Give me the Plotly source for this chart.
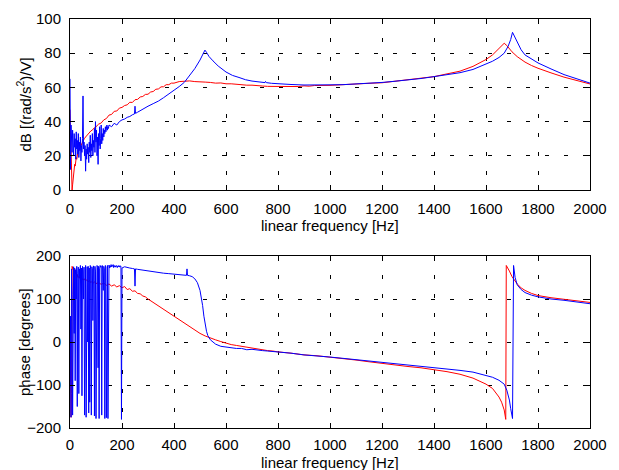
import plotly.graph_objects as go

# ---------------- data ----------------
# magnitude, blue trace
mag_blue_f = [0, 2, 4, 6, 8, 10, 12, 14, 16, 18, 20, 22, 24, 26, 28, 30, 32, 34, 36, 38,
              40, 42, 44, 46, 48, 50, 52, 54, 56, 58, 60, 62, 64, 66, 68, 70, 72, 74, 76, 78,
              80, 82, 84, 86, 88, 90, 92, 94, 96, 98, 100, 102, 104, 106, 108, 110, 112, 114, 116, 118,
              120, 122, 124, 126, 128, 130, 132, 134, 136, 138, 140, 142, 144, 146, 148, 150,
              160, 170, 180, 190, 200, 210, 220, 230, 240, 248, 250, 252, 260, 270, 280, 290, 300,
              320, 340, 360, 380, 400, 420, 440, 460, 480, 500, 510, 519, 525, 535, 550, 570, 600,
              625, 650, 675, 700, 725, 750, 752, 755, 775, 800, 850, 900, 950, 1000, 1050, 1100,
              1150, 1200, 1250, 1300, 1350, 1400, 1450, 1500, 1550, 1600, 1625, 1650, 1670, 1685,
              1695, 1702, 1710, 1720, 1735, 1750, 1775, 1800, 1850, 1900, 1950, 2000]
mag_blue = [65, 12, 38, 30, 22, 35, 27, 20, 33, 25, 30, 18, 34, 24, 29, 21, 33, 19, 28, 23,
            31, 17, 26, 22, 30, 55, 24, 28, 20, 26, 11, 24, 18, 27, 21, 25, 16, 28, 22, 32,
            19, 27, 23, 33, 20, 29, 25, 36, 22, 40, 28, 35, 20, 31, 15, 33, 26, 37, 24, 30,
            38, 27, 33, 29, 36, 31, 35, 33, 37, 34, 36, 38, 35, 37, 36, 38,
            37, 39, 38, 40, 41, 41.5, 42.5, 43, 44, 44.5, 49, 44.8, 45.5, 46.5, 47, 48, 49,
            50.5, 52, 54, 56, 58, 60.5, 63, 67, 71, 76, 79.5, 81.8, 80.5, 78, 75.5, 72.5, 69,
            67, 65.8, 64.5, 63.7, 63.2, 62.8, 63.5, 62.8, 62.4, 62.1, 61.7, 61.4, 61.3, 61.5, 61.6, 62,
            62.3, 62.9, 63.6, 64.3, 65.2, 66.3, 67.3, 68.6, 70.5, 73.8, 75.3, 77.5, 80, 84,
            88, 92.2, 89.5, 86, 82, 79, 76.5, 74.3, 70.8, 67.5, 65, 62.5]

# magnitude, red trace
mag_red_f = [0, 2, 4, 6, 8, 10, 12, 14, 16, 18, 20, 22, 24, 26, 28, 30, 35, 40, 45, 50,
             55, 60, 65, 70, 75, 80, 85, 90, 95, 100, 110, 120, 130, 140, 150, 160, 170, 180, 190, 200,
             210, 220, 230, 240, 250, 260, 270, 280, 290, 300, 310, 320, 330, 340, 350, 360, 370, 380, 390, 400,
             420, 440, 460, 480, 500, 520, 540, 560, 580, 600, 620, 640, 660, 680, 700, 720, 740, 760, 780, 800,
             820, 840, 860, 880, 900, 920, 940, 960, 980, 1000, 1050, 1100, 1150, 1200, 1250, 1300, 1350, 1400,
             1450, 1500, 1550, 1600, 1625, 1650, 1660, 1670, 1680, 1690, 1700, 1720, 1750, 1775, 1800, 1850,
             1900, 1950, 2000]
mag_red = [47, 30, 12, 2, 0, 3, 7, 10, 12, 15, 14, 17, 19, 18, 21, 22, 24, 25, 27, 29,
           30, 31, 32, 33, 33.5, 34.5, 35, 36, 36.5, 37, 38.5, 39.2, 41, 41.8, 43.8, 44.2, 46, 46.2, 47.9, 48.3,
           49.4, 49.8, 51.3, 51.2, 52.8, 53, 54.4, 54.7, 55.9, 56, 57.3, 57.6, 58.9, 59.1, 60.3, 60.4, 61.6, 61.6, 62.5, 62.5,
           63.4, 63.6, 63.8, 63.4, 63.4, 63.1, 62.9, 62.5, 62.6, 62.1, 62.1, 61.7, 61.7, 61.3, 61.3, 60.9, 60.8, 60.6, 60.6, 60.3,
           60.7, 60.3, 60.6, 60.5, 60.9, 60.7, 61.1, 61, 61.3, 61.2, 61.6, 61.8, 62.4, 62.7, 63.6, 64.2, 65.4, 66.3,
           67.9, 69.5, 72.3, 76.3, 79, 83, 84.7, 85.8, 84.5, 82.5, 80.8, 78, 74.8, 72.8, 71.2, 68.5,
           66, 64, 62]

# phase, blue trace
ph_blue_f = [0, 2, 4, 6, 8, 10, 12, 14, 16, 18, 20, 22, 24, 26, 28, 30, 32, 34, 36, 38,
             40, 42, 44, 46, 48, 50, 52, 54, 56, 58, 60, 62, 64, 66, 68, 70, 72, 74, 76, 78,
             80, 82, 84, 86, 88, 90, 92, 94, 96, 98, 100, 102, 104, 106, 108, 110, 112, 114, 116, 118,
             120, 122, 124, 126, 128, 130, 132, 134, 136, 138, 140, 142, 144, 146, 148, 150, 152, 154, 156, 158,
             160, 162, 164, 166, 168, 170, 172, 174, 176, 178, 180, 182, 184, 186, 188, 190, 192, 194, 196, 198,
             200, 210, 220, 230, 240, 248, 250, 252, 260, 280, 300, 320, 340, 360, 380, 400, 420, 440, 448, 450,
             452, 460, 470, 480, 490, 500, 505, 510, 515, 520, 525, 530, 540, 550, 560, 580, 600, 620, 640, 660,
             680, 700, 720, 740, 760, 780, 800, 850, 900, 950, 1000, 1050, 1100, 1150, 1200, 1250, 1300, 1350,
             1400, 1450, 1500, 1550, 1600, 1625, 1650, 1670, 1680, 1690, 1695, 1702, 1706, 1712, 1720, 1735,
             1750, 1775, 1800, 1850, 1900, 1950, 2000]
ph_blue = [-100, 60, -175, 170, 110, -170, 165, 175, 20, 172, -90, 168, 100, 176, -150, 160, 174, -120, 170, 150,
           178, 30, 172, -125, 176, 165, 100, 174, -170, 168, 178, -175, 170, 175, 0, 176, -165, 172, -140, 178,
           168, -170, 175, 170, 50, 177, 172, -172, 176, 165, -178, 172, 178, 174, -60, 176, -178, 170, 178, 174,
           176, -170, 178, 172, 120, 176, 170, -178, 178, 174, -176, 172, 178, -178, 176, 179, 172, 177, 174, 180,
           175, 178, 176, 180, 173, 178, 175, 177, 174, 178, 176, 173, 177, 175, 178, 176, 174, 177, 176, -180,
           172, 175, 173, 172, 171, 170, 130, 170, 169, 167, 165, 163, 162, 160, 159, 158, 157, 156, 155, 170,
           155, 154, 152, 147, 138, 120, 105, 85, 60, 40, 25, 15, 5, 0, -5, -10, -12, -13, -15, -15,
           -18, -17, -19, -20, -21, -22, -23, -26, -30, -32, -35, -38, -41, -45, -48, -51, -54, -57,
           -60, -63, -66, -70, -78, -82, -89, -98, -112, -135, -155, -178, 178, 150, 133, 122,
           115, 109, 105, 100, 97, 93, 89]

# phase, red trace
ph_red_f = [0, 2, 4, 6, 8, 10, 12, 14, 16, 18, 20, 22, 24, 26, 28, 30, 35, 40, 45, 50,
            55, 60, 65, 70, 75, 80, 85, 90, 95, 100, 110, 120, 130, 140, 150, 160, 170, 180, 190, 200,
            210, 220, 230, 240, 250, 260, 270, 280, 290, 300, 310, 320, 330, 340, 350, 360, 370, 380, 390, 400,
            410, 420, 430, 440, 450, 460, 470, 480, 490, 500, 520, 540, 560, 580, 600, 620, 640, 660, 680, 700,
            720, 740, 760, 780, 800, 850, 900, 950, 1000, 1050, 1100, 1150, 1200, 1250, 1300, 1350, 1400, 1450,
            1500, 1550, 1600, 1625, 1650, 1660, 1670, 1676, 1678, 1685, 1690, 1700, 1710, 1720, 1735, 1750,
            1775, 1800, 1850, 1900, 1950, 2000]
ph_red = [0, -165, -175, -120, 176, 172, 168, 170, 165, 162, 168, 158, 160, 155, 157, 150, 152, 146, 149, 144,
          147, 142, 145, 140, 143, 138, 141, 137, 140, 136, 138, 134, 137, 132, 135, 130, 133, 128, 131, 126,
          129, 122, 124, 118, 119, 113, 112, 107, 105, 100, 96, 91, 87, 82, 78, 75, 70, 67, 62, 59,
          54, 50, 46, 42, 38, 34, 31, 26, 23, 20, 14, 9, 5, 1, -3, -6, -8, -10, -13, -15,
          -17, -18, -20, -21, -23, -26, -30, -32, -35, -39, -42, -46, -50, -53, -57, -60, -64, -69,
          -75, -84, -98, -108, -128, -140, -158, -180, 178, 172, 165, 152, 142, 135, 126, 120,
          113, 108, 103, 99, 96, 92]

x_ticks = [0, 200, 400, 600, 800, 1000, 1200, 1400, 1600, 1800, 2000]
mag_ticks = [0, 20, 40, 60, 80, 100]
ph_ticks = [-200, -100, 0, 100, 200]

# ---------------- figure ----------------
FONT = "Liberation Sans, Arial, Helvetica, sans-serif"
FS = 15
fig = go.Figure()
fig.add_trace(go.Scatter(x=mag_red_f, y=mag_red, mode="lines",
                         line=dict(color="#ff0000", width=1), xaxis="x", yaxis="y"))
fig.add_trace(go.Scatter(x=mag_blue_f, y=mag_blue, mode="lines",
                         line=dict(color="#0000ff", width=1), xaxis="x", yaxis="y"))
fig.add_trace(go.Scatter(x=ph_red_f, y=ph_red, mode="lines",
                         line=dict(color="#ff0000", width=1), xaxis="x2", yaxis="y2"))
fig.add_trace(go.Scatter(x=ph_blue_f, y=ph_blue, mode="lines",
                         line=dict(color="#0000ff", width=1), xaxis="x2", yaxis="y2"))

axis_common = dict(
    showline=True, linecolor="black", linewidth=1, mirror="allticks",
    ticks="inside", ticklen=5, tickcolor="black", tickwidth=1,
    showgrid=True, gridcolor="black", gridwidth=1, griddash="4px,15px",
    zeroline=False, tickfont=dict(family=FONT, size=FS, color="black"),
    ticklabelstandoff=5, automargin=False,
)

# the page body adds an 8px offset; margins compensate so the axes land where the reference has them
ML, MR, MT, MB = 62, 37, 11, 50
plot_w = 619 - ML - MR          # 520
plot_h = 470 - MT - MB          # 409
top_dom = [(420 - 182) / plot_h, 1.0]
bot_dom = [0.0, (420 - 248) / plot_h]
ytitle_x = (16 - ML) / plot_w   # paper x of the rotated y titles
xtitle_top_y = (420 - 217) / plot_h
xtitle_bot_y = (420 - 455) / plot_h

title_font = dict(family=FONT, size=FS, color="black")

fig.update_layout(
    width=619, height=470,
    margin=dict(l=ML, r=MR, t=MT, b=MB),
    paper_bgcolor="white", plot_bgcolor="white",
    showlegend=False,
    font=dict(family=FONT, size=FS, color="black"),
    xaxis=dict(axis_common, range=[0, 2000], tickvals=x_ticks, domain=[0, 1], anchor="y"),
    yaxis=dict(axis_common, range=[0, 100], tickvals=mag_ticks, domain=top_dom, anchor="x"),
    xaxis2=dict(axis_common, range=[0, 2000], tickvals=x_ticks, domain=[0, 1], anchor="y2",
                ticklabelstandoff=3),
    yaxis2=dict(axis_common, range=[-200, 200], tickvals=ph_ticks, domain=bot_dom, anchor="x2"),
    annotations=[
        dict(text="dB [(rad/s<sup>2</sup>)/V]", textangle=-90, showarrow=False,
             xref="paper", yref="paper", x=ytitle_x, y=sum(top_dom) / 2,
             xanchor="center", yanchor="middle", font=title_font),
        dict(text="phase [degrees]", textangle=-90, showarrow=False,
             xref="paper", yref="paper", x=ytitle_x, y=sum(bot_dom) / 2,
             xanchor="center", yanchor="middle", font=title_font),
        dict(text="linear frequency [Hz]", showarrow=False,
             xref="paper", yref="paper", x=0.5, y=xtitle_top_y,
             xanchor="center", yanchor="middle", font=title_font),
        dict(text="linear frequency [Hz]", showarrow=False,
             xref="paper", yref="paper", x=0.5, y=xtitle_bot_y,
             xanchor="center", yanchor="middle", font=title_font),
    ],
)

fig.write_html("out.html")
